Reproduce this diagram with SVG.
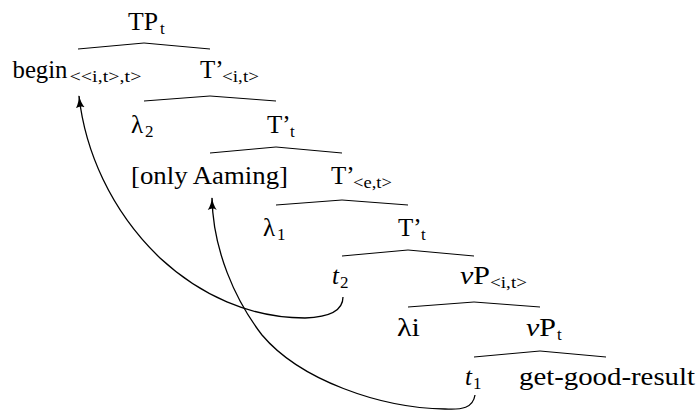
<svg xmlns="http://www.w3.org/2000/svg" width="696" height="410" viewBox="0 0 696 410">
<style>
text{font-family:"Liberation Serif","Times New Roman",serif;fill:#000}
.m{font-size:25px}
.s{font-size:17px}
.i{font-style:italic}
.br{fill:none;stroke:#000;stroke-width:1}
.ar{fill:none;stroke:#000;stroke-width:1.3}
</style>
<defs>
<marker id="ah" viewBox="0 0 13 10" refX="12" refY="5" markerWidth="13" markerHeight="10" markerUnits="userSpaceOnUse" orient="auto">
<path d="M0,0.5 Q5,4 13,5 Q5,6 0,9.5 Q3,5 0,0.5 z" fill="#000"/>
</marker>
</defs>
<g id="branches">
<path class="br" d="M78,49 L144,43 L210,49"/>
<path class="br" d="M144,101 L210,96 L276,101"/>
<path class="br" d="M210,153 L276,147 L342,153"/>
<path class="br" d="M276,205 L342,200 L408,205"/>
<path class="br" d="M342,256 L408,250 L474,256"/>
<path class="br" d="M408,307 L474,302 L540,307"/>
<path class="br" d="M474,357 L540,351 L606,357"/>
</g>
<g id="n-TP"><text class="m" x="128" y="30" textLength="30" lengthAdjust="spacingAndGlyphs">TP</text><text class="s" x="160" y="34">t</text></g>
<g id="n-begin"><text class="m" x="12.5" y="78" textLength="55" lengthAdjust="spacingAndGlyphs">begin</text><text class="s" x="69.5" y="82" textLength="72" lengthAdjust="spacingAndGlyphs">&lt;&lt;i,t&gt;,t&gt;</text></g>
<g id="n-T1"><text class="m" x="200" y="78">T’</text><text class="s" x="222" y="82" textLength="37" lengthAdjust="spacingAndGlyphs">&lt;i,t&gt;</text></g>
<g id="n-lambda2"><text class="m" x="131" y="133">λ</text><text class="s" x="145" y="137">2</text></g>
<g id="n-T2"><text class="m" x="267" y="133">T’</text><text class="s" x="290" y="137">t</text></g>
<g id="n-only"><text class="m" x="131" y="184" textLength="157" lengthAdjust="spacingAndGlyphs">[only Aaming]</text></g>
<g id="n-T3"><text class="m" x="331" y="184">T’</text><text class="s" x="353" y="188" textLength="39" lengthAdjust="spacingAndGlyphs">&lt;e,t&gt;</text></g>
<g id="n-lambda1"><text class="m" x="263" y="236">λ</text><text class="s" x="277" y="240">1</text></g>
<g id="n-T4"><text class="m" x="398" y="236">T’</text><text class="s" x="421" y="240">t</text></g>
<g id="n-t2"><text class="m i" x="332" y="284">t</text><text class="s" x="340" y="288">2</text></g>
<g id="n-vP1"><text class="m" x="460" y="284" textLength="30" lengthAdjust="spacingAndGlyphs"><tspan class="i">ν</tspan>P</text><text class="s" x="490" y="288" textLength="37" lengthAdjust="spacingAndGlyphs">&lt;i,t&gt;</text></g>
<g id="n-lambdai"><text class="m" x="397" y="336" textLength="23" lengthAdjust="spacingAndGlyphs">λi</text></g>
<g id="n-vP2"><text class="m" x="526" y="336" textLength="30" lengthAdjust="spacingAndGlyphs"><tspan class="i">ν</tspan>P</text><text class="s" x="557" y="340">t</text></g>
<g id="n-t1"><text class="m i" x="465" y="385">t</text><text class="s" x="473" y="389">1</text></g>
<g id="n-ggr"><text class="m" x="519" y="385" textLength="176" lengthAdjust="spacingAndGlyphs">get-good-result</text></g>
<g id="connectors">
<path class="ar" marker-end="url(#ah)" d="M343,297 C343,308 335,317 305,318 C250,318 200,295 160,258 C110,210 85,150 79,96"/>
<path class="ar" marker-end="url(#ah)" d="M475,395 C473,408 462,410 445,409 C380,408 300,380 262,335 C235,300 213,250 212,198"/>
</g>
</svg>
